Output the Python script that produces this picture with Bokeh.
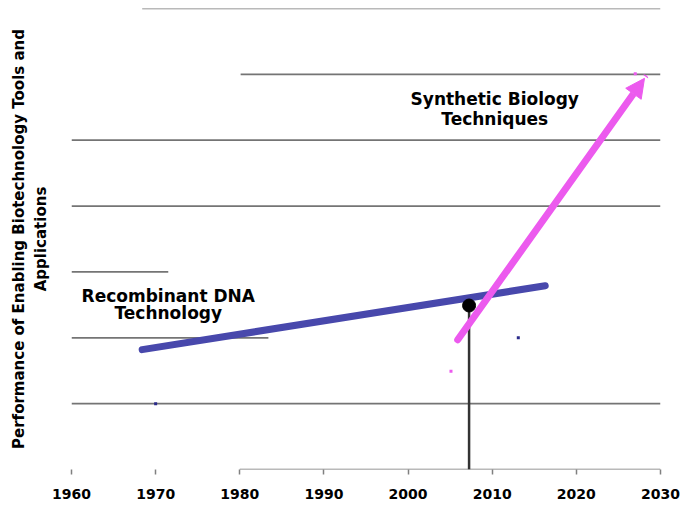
from bokeh.plotting import figure
from bokeh.models import Range1d, Label, Arrow, NormalHead, FixedTicker
from bokeh.embed import file_html
from bokeh.resources import INLINE

# ---- data ----
tick_years = [1960, 1970, 1980, 1990, 2000, 2010, 2020, 2030]
tick_labels = ["1960", "1970", "1980", "1990", "2000", "2010", "2020", "2030"]

grid_levels = [1, 2, 3, 4, 5, 6, 7]
grid_start = [1960, 1960, 1960, 1960, 1960, 1980.1, 1968.4]
grid_end = [2030, 1983.4, 1971.5, 2030, 2030, 2030, 2030]

axis_start = [1980]
axis_end = [2030]

rdna_years = [1968.4, 2016.3]
rdna_perf = [1.82, 2.79]

synbio_years = [2005.9, 2028.1]
synbio_perf = [1.97, 5.94]

now_year = [2007.25]
now_perf = [2.49]

blue_pt_years = [1970.0, 2013.1]
blue_pt_perf = [1.0, 2.0]
pink_pt_years = [2005.1, 2027.0]
pink_pt_perf = [1.49, 6.01]

ylabel_text = "Performance of Enabling Biotechnology Tools and\nApplications"

BLUE = "#4848AC"
PINK = "#EC5AEE"
FONT = "DejaVu Sans"

p = figure(width=694, height=506, output_backend="svg", toolbar_location=None,
           x_range=Range1d(1960, 2030), y_range=Range1d(0, 7))
p.min_border_left = 71
p.min_border_right = 34
p.min_border_top = 8
p.min_border_bottom = 37
p.outline_line_color = None
p.background_fill_color = "white"
p.border_fill_color = "white"
p.xgrid.visible = False
p.ygrid.visible = False

ya = p.yaxis[0]
ya.axis_line_color = None
ya.major_tick_line_color = None
ya.minor_tick_line_color = None
ya.major_tick_in = 0
ya.major_tick_out = 0
ya.major_label_text_font_size = "0px"
ya.major_label_text_color = None
ya.axis_label = ylabel_text
ya.axis_label_text_font = FONT
ya.axis_label_text_font_style = "bold"
ya.axis_label_text_font_size = "15px"
ya.axis_label_text_color = "black"
ya.axis_label_standoff = 18

xa = p.xaxis[0]
xa.ticker = FixedTicker(ticks=tick_years)
xa.major_label_overrides = {y: l for y, l in zip(tick_years, tick_labels)}
xa.axis_line_color = None
xa.major_tick_in = 0
xa.major_tick_out = 5
xa.major_tick_line_color = "#808080"
xa.major_tick_line_width = 1.5
xa.minor_tick_line_color = None
xa.major_label_text_font = FONT
xa.major_label_text_font_style = "bold"
xa.major_label_text_font_size = "14px"
xa.major_label_text_color = "black"
xa.major_label_standoff = 14

# grid lines (partial)
p.segment(x0=grid_start, y0=grid_levels, x1=grid_end, y1=grid_levels,
          line_color="#747474", line_width=1.7)
# axis line
p.segment(x0=axis_start, y0=[0], x1=axis_end, y1=[0],
          line_color="#747474", line_width=1.7)

# recombinant DNA trend
p.line(rdna_years, rdna_perf, line_color=BLUE, line_width=7, line_cap="round")

# synthetic biology arrow
arr = Arrow(x_start=synbio_years[0], y_start=synbio_perf[0],
            x_end=synbio_years[1], y_end=synbio_perf[1],
            line_color=PINK, line_width=7, line_cap="round",
            end=NormalHead(size=19, fill_color=PINK, line_color=PINK))
arr.level = "glyph"
p.add_layout(arr)

# now marker
p.segment(x0=now_year, y0=[0], x1=now_year, y1=now_perf,
          line_color="#333333", line_width=2.5)
p.scatter(now_year, now_perf, size=13, fill_color="black", line_color="black")

# small points
p.scatter(blue_pt_years, blue_pt_perf, marker="square", size=3,
          fill_color="#2a2a8a", line_color=None)
p.scatter(pink_pt_years, pink_pt_perf, marker="square", size=3,
          fill_color=PINK, line_color=None)

# annotations
def add_text(x, y, txt, size):
    p.add_layout(Label(x=x, y=y, text=txt, text_font=FONT, text_font_style="bold",
                       text_font_size=size, text_color="black", text_align="center",
                       text_baseline="alphabetic"))

add_text(1971.5, 2.64, "Recombinant DNA", "17px")
add_text(1971.5, 2.37, "Technology", "17px")
add_text(2010.3, 5.63, "Synthetic Biology", "17px")
add_text(2010.3, 5.32, "Techniques", "17px")

open("out.html", "w").write(file_html(p, INLINE))
